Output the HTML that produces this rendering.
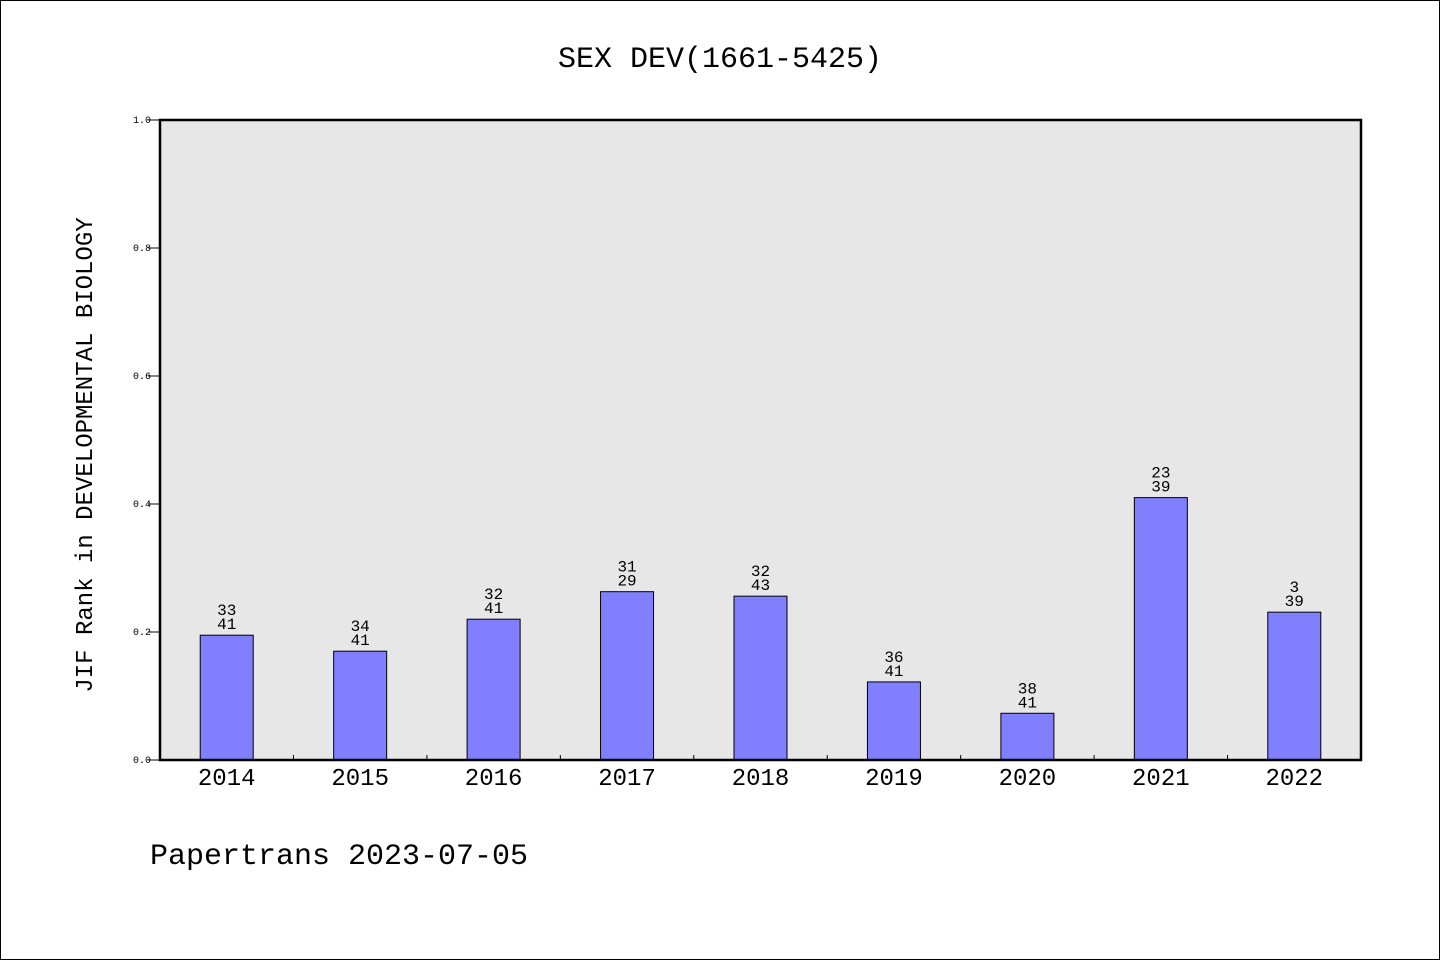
<!DOCTYPE html>
<html><head><meta charset="utf-8"><style>
html,body{margin:0;padding:0;background:#fff}
svg{display:block}
text{font-family:"WenQuanYi Zen Hei","Liberation Mono",monospace;fill:#000}
</style></head><body>
<svg width="1440" height="960" xmlns="http://www.w3.org/2000/svg">
<rect x="0.5" y="0.5" width="1439" height="959" fill="#fff" stroke="#000"/>
<text x="720" y="67" font-size="30" text-anchor="middle">SEX DEV(1661-5425)</text>
<rect x="160" y="120" width="1201" height="640" fill="#e7e7e7"/>
<g id="marks"></g>
<rect x="160" y="120" width="1201" height="640" fill="none" stroke="#000" stroke-width="2.5"/>
<text transform="translate(92,455) rotate(-90)" font-size="24" text-anchor="middle">JIF Rank in DEVELOPMENTAL BIOLOGY</text>
<text x="150" y="864" font-size="30">Papertrans 2023-07-05</text>
</svg>
<script>
const categories=["2014","2015","2016","2017","2018","2019","2020","2021","2022"];
const values=[0.195,0.170,0.220,0.263,0.256,0.122,0.073,0.410,0.231];
const ranks=["33","34","32","31","32","36","38","23","3"];
const totals=["41","41","41","29","43","41","41","39","39"];
const yTicks=[0,0.2,0.4,0.6,0.8,1.0];
const yTickLabels=["0.0","0.2","0.4","0.6","0.8","1.0"];
const NS="http://www.w3.org/2000/svg";
const x0=160,x1=1361,yb=760,yt=120;
const step=(x1-x0)/categories.length;
const xc=i=>x0+step*(i+0.5);
const y=v=>yb-(yb-yt)*v;
const g=document.getElementById('marks');
function mk(t,a){const e=document.createElementNS(NS,t);for(const k in a)e.setAttribute(k,a[k]);g.appendChild(e);return e;}
yTicks.forEach((v,i)=>{
 const l=mk('line',{x1:148,x2:160,y1:y(v),y2:y(v),stroke:'#000','stroke-width':1});
 
 
 const t=mk('text',{x:151,y:y(v)+3,'font-size':10,'text-anchor':'end'});
 t.textContent=yTickLabels[i];
 
 
});
for(let i=1;i<categories.length;i++){
 const l=mk('line',{x1:x0+step*i,x2:x0+step*i,y1:755,y2:760,stroke:'#000','stroke-width':1});
 
 
}
categories.forEach((c,i)=>{
 const bw=53,cx=xc(i);
 const r=mk('rect',{x:cx-bw/2,y:y(values[i]),width:bw,height:yb-y(values[i]),fill:'#8080ff',stroke:'#000','stroke-width':1});
 
 
 const t1=mk('text',{x:cx,y:y(values[i])-20,'font-size':16,'text-anchor':'middle'});
 t1.textContent=ranks[i];
 
 
 const t2=mk('text',{x:cx,y:y(values[i])-6,'font-size':16,'text-anchor':'middle'});
 t2.textContent=totals[i];
 
 
 const xl=mk('text',{x:cx,y:785,'font-size':24,'text-anchor':'middle'});
 xl.textContent=c;
 
 
});
</script>
</body></html>
